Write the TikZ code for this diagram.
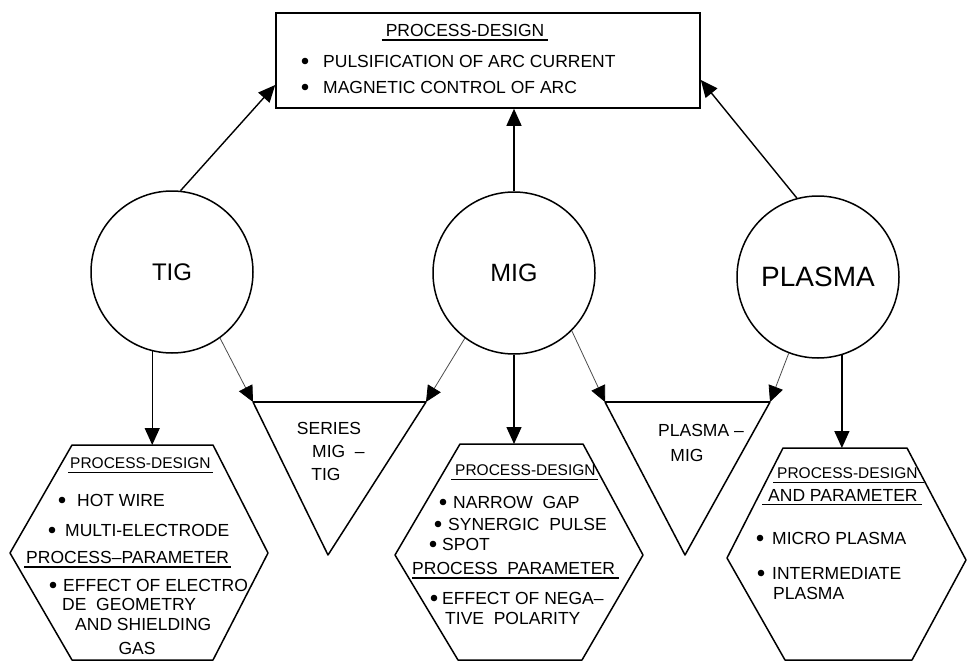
\documentclass[tikz,border=0pt]{standalone}
\usepackage{fontspec}
\setmainfont{Liberation Sans}
\usetikzlibrary{arrows.meta,calc}
\newcommand{\fsA}{\fontsize{17.5}{20}\selectfont}
\newcommand{\fsB}{\fontsize{15.5}{18}\selectfont}
\newcommand{\bulat}[2]{\fill ([xshift=-#2pt]#1.west) circle (3.3pt);}
\begin{document}
\begin{tikzpicture}[x=1pt,y=-1pt,
  outl/.style={line width=1.5pt,line join=round},
  topedge/.style={line width=2.6pt},
  circ/.style={circle,draw,line width=1.5pt,minimum size=162pt,inner sep=0pt},
  txt/.style={anchor=west,inner sep=0pt,font=\fsA},
  txtc/.style={inner sep=0pt,font=\fsA},
  sub/.style={anchor=west,inner sep=0pt,font=\fsB},
  arr/.style={line width=1.4pt,-{Triangle[length=17pt,width=15pt]}},
  darr/.style={line width=0.8pt,draw=black!70,-{Triangle[length=16pt,width=15pt,color=black]}},
  uline/.style={line width=1.3pt}
]
\useasboundingbox (0,0) rectangle (969,664);

% top box
\node[draw,line width=1.6pt,minimum width=424pt,minimum height=95pt,inner sep=0pt] (box) at (488,60.5) {};
\node[txtc] (bt) at (465,30) {PROCESS-DESIGN};
\draw[uline] ([xshift=-4pt,yshift=-3.5pt]bt.south west) -- ([xshift=4pt,yshift=-3.5pt]bt.south east);
\node[txt] (b1) at (323,61) {PULSIFICATION OF ARC CURRENT};
\node[txt] (b2) at (323,87) {MAGNETIC CONTROL OF ARC};
\bulat{b1}{18}
\bulat{b2}{18}

% circles
\node[circ,font=\fontsize{24}{24}\selectfont] (tig) at (172,272) {TIG};
\node[circ,font=\fontsize{25}{25}\selectfont] (mig) at (514,273) {MIG};
\node[circ,font=\fontsize{28}{28}\selectfont] (plasma) at (818,277) {PLASMA};

% triangles
\coordinate (t1l) at (253,402);
\coordinate (t1r) at (426,402);
\coordinate (t1b) at (328,555);
\coordinate (t2l) at (605,402);
\coordinate (t2r) at (770,402);
\coordinate (t2b) at (685,555);
\draw[outl] (t1l) -- (t1b) -- (t1r);
\draw[topedge] (t1l) -- (t1r);
\draw[outl] (t2l) -- (t2b) -- (t2r);
\draw[topedge] (t2l) -- (t2r);
\node[txtc] (s1) at (329,428) {SERIES};
\node[txt] (s2) at (312,451) {MIG \ –};
\node[txtc] (s3) at (326,474) {TIG};
\node[txt] (p1) at (658,430) {PLASMA –};
\node[txtc] (p2) at (687,455) {MIG};

% hexagons
\coordinate (h1tl) at (72,445); \coordinate (h1tr) at (213,445);
\coordinate (h1r) at (268,553); \coordinate (h1br) at (213,660);
\coordinate (h1bl) at (72,660); \coordinate (h1l) at (10,553);
\draw[outl] (h1tl) -- (h1tr) -- (h1r) -- (h1br) -- (h1bl) -- (h1l) -- cycle;
\coordinate (h2tl) at (460,444); \coordinate (h2tr) at (583,444);
\coordinate (h2r) at (643,555); \coordinate (h2br) at (582,660);
\coordinate (h2bl) at (458,660); \coordinate (h2l) at (395,555);
\draw[outl] (h2tl) -- (h2tr) -- (h2r) -- (h2br) -- (h2bl) -- (h2l) -- cycle;
\coordinate (h3tl) at (783,448); \coordinate (h3tr) at (907,448);
\coordinate (h3r) at (966,560); \coordinate (h3br) at (912,660);
\coordinate (h3bl) at (785,660); \coordinate (h3l) at (727,558);
\draw[outl] (h3tl) -- (h3tr) -- (h3r) -- (h3br) -- (h3bl) -- (h3l) -- cycle;

% arrow targets
\coordinate (h1in) at (153,445);
\coordinate (h2in) at (515,444);
\coordinate (h3in) at (842,448);

% TIG hexagon text
\node[sub] (a1) at (70,463) {PROCESS-DESIGN};
\draw[uline] ([xshift=-2pt,yshift=-3.5pt]a1.south west) -- ([xshift=2pt,yshift=-3.5pt]a1.south east);
\node[txt] (a2) at (77,500) {HOT WIRE};
\node[txt] (a3) at (65,530) {MULTI-ELECTRODE};
\node[txt] (a4) at (26,557) {PROCESS–PARAMETER};
\draw[uline] ([xshift=-2pt,yshift=-3.5pt]a4.south west) -- ([xshift=2pt,yshift=-3.5pt]a4.south east);
\node[txt] (a5) at (63,585) {EFFECT OF ELECTRO};
\node[txt] (a6) at (62,604) {DE \ GEOMETRY};
\node[txt] (a7) at (75,624) {AND SHIELDING};
\node[txtc] (a8) at (137,648) {GAS};
\bulat{a2}{15}
\bulat{a3}{13}
\bulat{a5}{10}

% MIG hexagon text
\node[sub] (m1) at (455,470) {PROCESS-DESIGN};
\draw[uline] ([xshift=-4pt,yshift=-3.5pt]m1.south west) -- ([xshift=2pt,yshift=-3.5pt]m1.south east);
\node[txt] (m2) at (453,502) {NARROW \ GAP};
\node[txt] (m3) at (448,524) {SYNERGIC \ PULSE};
\node[txt] (m4) at (442,544) {SPOT};
\node[txt] (m5) at (412,568) {PROCESS \ PARAMETER};
\draw[uline] ([yshift=-3.5pt]m5.south west) -- ([xshift=4pt,yshift=-3.5pt]m5.south east);
\node[txt] (m6) at (442,598) {EFFECT OF NEGA–};
\node[txt] (m7) at (445,618) {TIVE \ POLARITY};
\bulat{m2}{10}
\bulat{m3}{10}
\bulat{m4}{9}
\bulat{m6}{8}

% PLASMA hexagon text
\node[sub] (q1) at (777,473) {PROCESS-DESIGN};
\draw[uline] ([xshift=-4pt,yshift=-3.5pt]q1.south west) -- ([xshift=6pt,yshift=-3.5pt]q1.south east);
\node[txt] (q2) at (768,495) {AND PARAMETER};
\draw[uline] ([xshift=-6pt,yshift=-3.5pt]q2.south west) -- ([xshift=4pt,yshift=-3.5pt]q2.south east);
\node[txt] (q3) at (772,538) {MICRO PLASMA};
\node[txt] (q4) at (772,573) {INTERMEDIATE};
\node[txt] (q5) at (773,593) {PLASMA};
\bulat{q3}{12}
\bulat{q4}{11}

% connectors
\draw[arr] (tig.84) -- ([yshift=-24.5pt]box.west);
\draw[arr] (mig.north) -- (mig.north |- box.south);
\draw[arr] (plasma.105) -- ([yshift=-19.5pt]box.east);
\draw[arr] (tig.256) -- (tig.256 |- h1in);
\draw[arr] (mig.south) -- (mig.south |- h2in);
\draw[arr] (plasma.287) -- (plasma.287 |- h3in);
\draw[darr] (tig.306) -- (t1l);
\draw[darr] (mig.233) -- (t1r);
\draw[darr] (mig.315) -- (t2l);
\draw[darr] (plasma.249) -- (t2r);
\end{tikzpicture}
\end{document}
